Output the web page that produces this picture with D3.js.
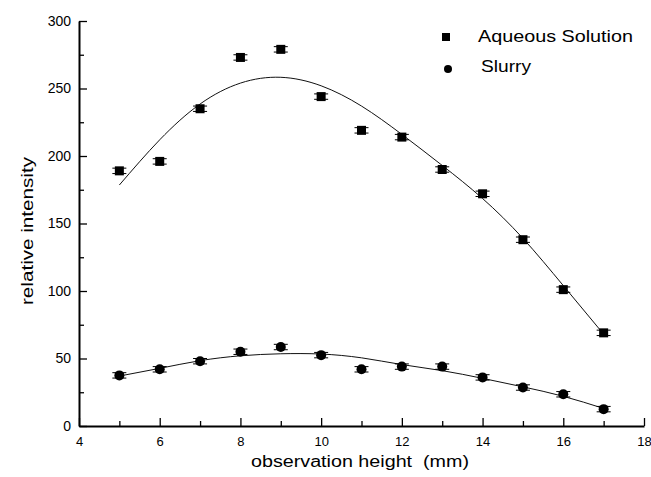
<!DOCTYPE html>
<html>
<head>
<meta charset="utf-8">
<script src="https://cdn.jsdelivr.net/npm/d3@7"></script>
<style>
  body { margin: 0; background: #fff; }
  text { font-family: "Liberation Sans", Arial, sans-serif; fill: #000; }
</style>
</head>
<body>
<div id="vis-container"></div>
<script>
// data
let heights = [5, 6, 7, 8, 9, 10, 11, 12, 13, 14, 15, 16, 17];
let aqueous = [189, 196, 235, 273, 279, 244, 219, 214, 190, 172, 138, 101, 69];
let slurry = [37.5, 42, 48, 55, 58.5, 52.5, 42, 44, 44, 36, 28.5, 23.5, 12.5];
let aqueousErr = [2, 2, 2, 2, 2, 2, 2, 2, 2, 2, 2, 2, 2];
let slurryErr = [2, 2, 2, 2, 2, 2, 2, 2, 2, 2, 2, 2, 2];
// fitted curves, read at each height
let aqueousFit = [178.5, 212, 238.5, 254, 258.3, 252, 237, 216, 193, 168.5, 139, 104, 68];
let slurryFit = [37, 42.7, 48.4, 52, 53.5, 53.3, 50.5, 45.5, 41, 35.3, 29, 22, 13];
let xMajor = [4, 6, 8, 10, 12, 14, 16, 18];
let xMinor = [5, 7, 9, 11, 13, 15, 17];
let yMajor = [0, 50, 100, 150, 200, 250, 300];
let yMinor = [25, 75, 125, 175, 225, 275];

let W = 651, H = 477;

let svg = d3.select("#vis-container")
  .append("svg")
  .attr("width", W)
  .attr("height", H);

//scales
let x = d3.scaleLinear().domain([4, 18]).range([79, 644]);
let y = d3.scaleLinear().domain([0, 300]).range([426, 21]);

//minor ticks
svg.append("g")
  .attr("transform", "translate(79,0)")
  .call(d3.axisLeft(y).tickValues(yMinor).tickSize(-5).tickFormat(""))
  .call(g => g.select(".domain").remove())
  .selectAll("line").attr("stroke-width", 1.3);

svg.append("g")
  .attr("transform", "translate(0,426)")
  .call(d3.axisBottom(x).tickValues(xMinor).tickSize(-5).tickFormat(""))
  .call(g => g.select(".domain").remove())
  .selectAll("line").attr("stroke-width", 1.3);

//major axes
let yAxisGroup = svg.append("g")
  .attr("transform", "translate(79,0)")
  .call(d3.axisLeft(y).tickValues(yMajor).tickSize(-8).tickSizeOuter(0).tickPadding(8));

let xAxisGroup = svg.append("g")
  .attr("transform", "translate(0,426)")
  .call(d3.axisBottom(x).tickValues(xMajor).tickSize(-8).tickSizeOuter(0).tickPadding(11));

[yAxisGroup, xAxisGroup].forEach(g => {
  g.select(".domain").attr("stroke-width", 2);
  g.selectAll(".tick line").attr("stroke-width", 1.3);
  g.selectAll("text")
    .attr("font-family", "Liberation Sans, Arial, sans-serif")
    .attr("fill", "#000");
});
yAxisGroup.selectAll("text").attr("font-size", "14px");
xAxisGroup.selectAll("text").attr("font-size", "13px");

//axis labels
svg.append("text")
  .attr("x", 251)
  .attr("y", 467)
  .attr("font-size", "16px")
  .attr("textLength", 218)
  .attr("lengthAdjust", "spacingAndGlyphs")
  .attr("xml:space", "preserve")
  .text("observation height  (mm)");

svg.append("text")
  .attr("transform", "translate(33,305) rotate(-90)")
  .attr("font-size", "16px")
  .attr("textLength", 148)
  .attr("lengthAdjust", "spacingAndGlyphs")
  .text("relative intensity");

//fit curves
let line = d3.line()
  .x((d, i) => x(heights[i]))
  .y(d => y(d))
  .curve(d3.curveNatural);

svg.append("path")
  .attr("d", line(aqueousFit))
  .attr("fill", "none")
  .attr("stroke", "#111")
  .attr("stroke-width", 1);

svg.append("path")
  .attr("d", line(slurryFit))
  .attr("fill", "none")
  .attr("stroke", "#111")
  .attr("stroke-width", 1);

//error bars
function errorBars(vals, errs) {
  let g = svg.append("g").attr("stroke", "#000").attr("stroke-width", 1);
  vals.forEach((v, i) => {
    let cx = x(heights[i]);
    [v - errs[i], v + errs[i]].forEach(e => {
      g.append("line")
        .attr("x1", cx - 7).attr("x2", cx + 7)
        .attr("y1", y(e)).attr("y2", y(e));
    });
    g.append("line")
      .attr("x1", cx).attr("x2", cx)
      .attr("y1", y(v - errs[i])).attr("y2", y(v + errs[i]));
  });
}
errorBars(aqueous, aqueousErr);
errorBars(slurry, slurryErr);

//points
svg.append("g").selectAll("rect")
  .data(aqueous)
  .enter()
  .append("rect")
    .attr("x", (d, i) => x(heights[i]) - 4.5)
    .attr("y", d => y(d) - 4.5)
    .attr("width", 9)
    .attr("height", 9)
    .attr("fill", "#000");

svg.append("g").selectAll("circle")
  .data(slurry)
  .enter()
  .append("circle")
    .attr("cx", (d, i) => x(heights[i]))
    .attr("cy", d => y(d))
    .attr("r", 5)
    .attr("fill", "#000");

//legend
let gLegend = svg.append("g");
gLegend.append("rect")
  .attr("x", 442).attr("y", 33)
  .attr("width", 8).attr("height", 8)
  .attr("fill", "#000");
gLegend.append("text")
  .attr("x", 478).attr("y", 42)
  .attr("font-size", "17px")
  .attr("textLength", 155)
  .attr("lengthAdjust", "spacingAndGlyphs")
  .text("Aqueous Solution");
gLegend.append("circle")
  .attr("cx", 448).attr("cy", 69)
  .attr("r", 4)
  .attr("fill", "#000");
gLegend.append("text")
  .attr("x", 481).attr("y", 72)
  .attr("font-size", "17px")
  .attr("textLength", 50)
  .attr("lengthAdjust", "spacingAndGlyphs")
  .text("Slurry");
</script>
</body>
</html>
